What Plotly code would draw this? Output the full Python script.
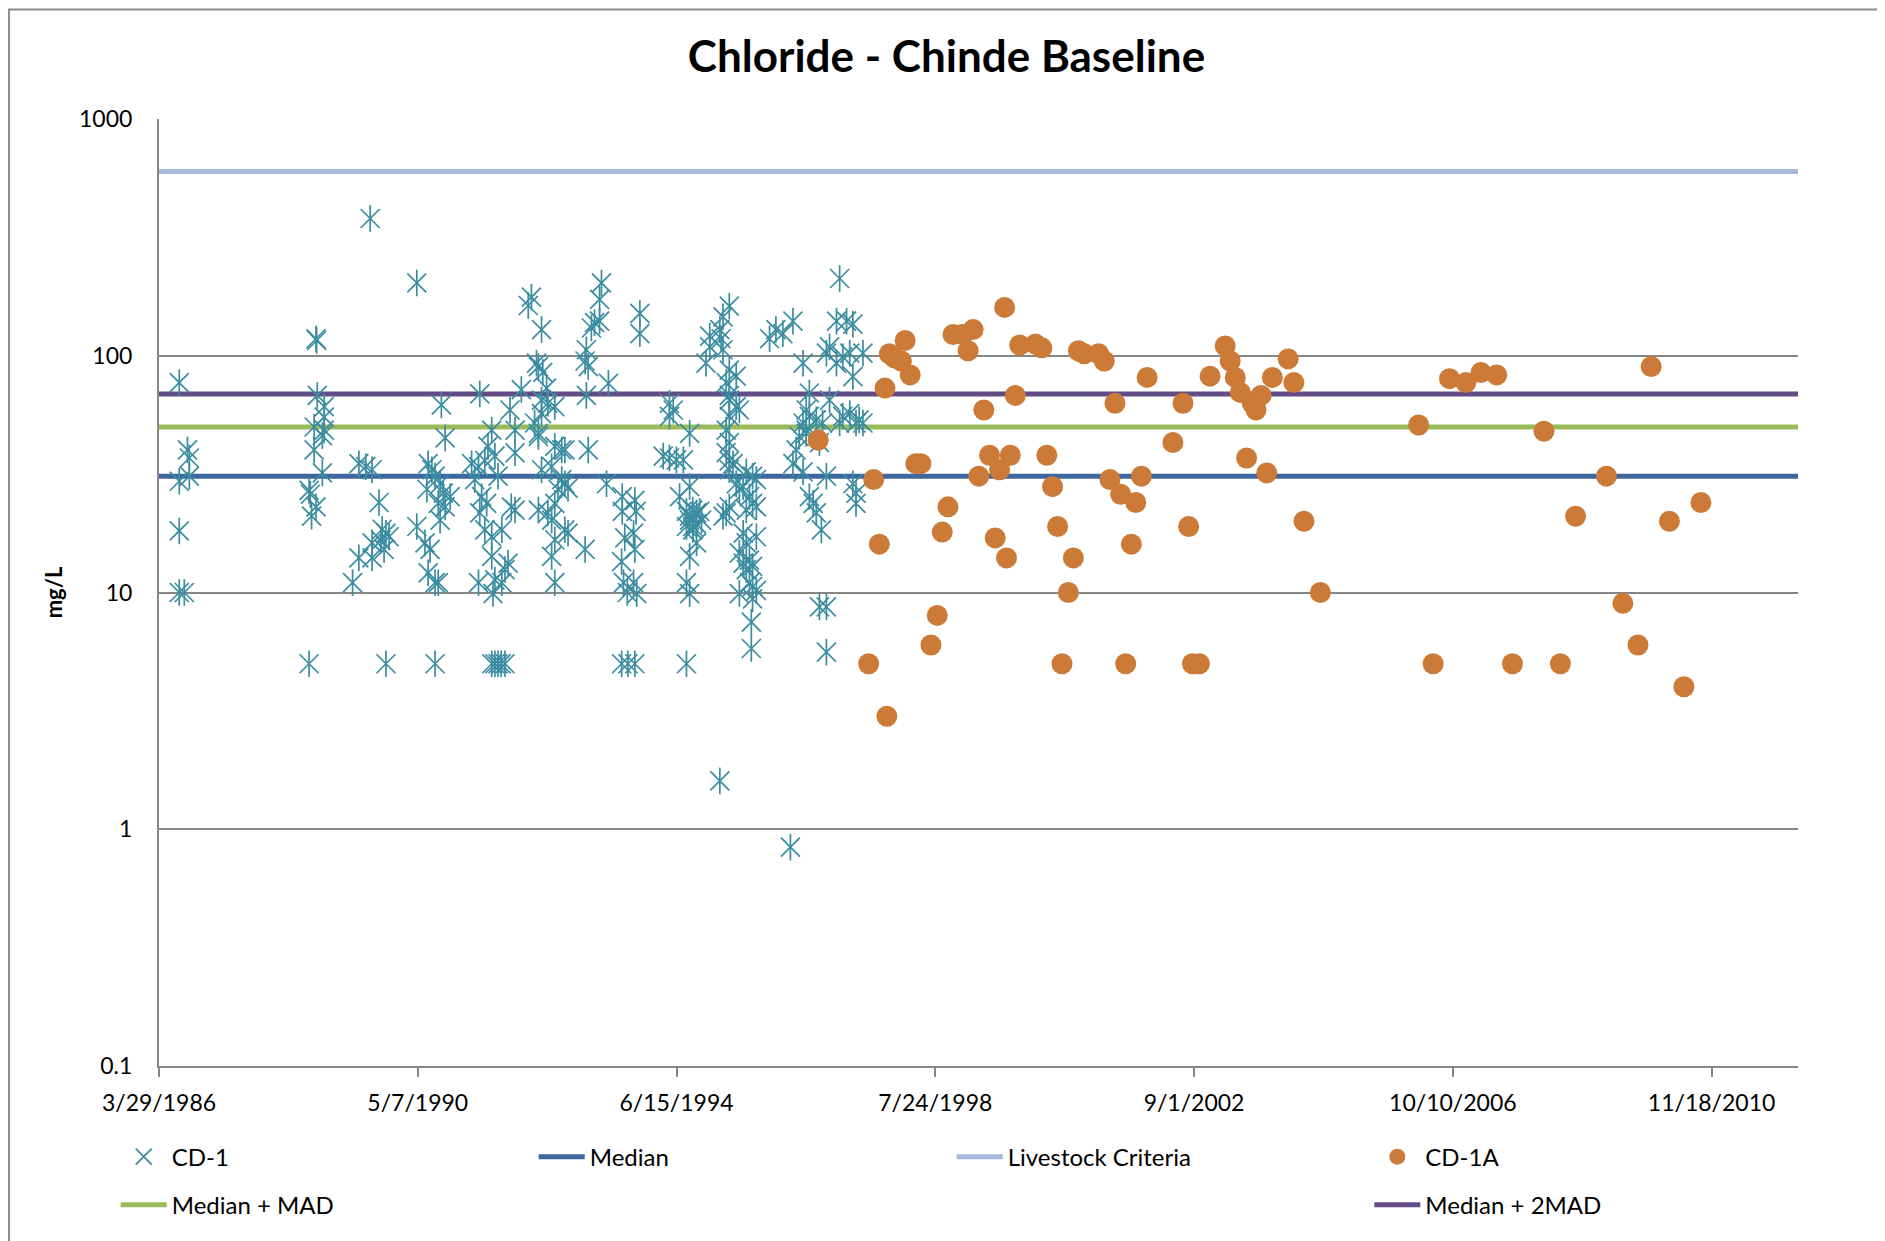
import pandas as pd
import plotly.graph_objects as go

# ---------------- data ----------------
# CD-1 sampling dates (decimal years) and chloride (mg/L)
cd1_year = [
    1986.56, 1986.69, 1986.72, 1986.56, 1986.72, 1986.56, 1986.56, 1986.64,
    1988.73, 1988.74, 1988.75, 1988.86, 1988.86, 1988.70, 1988.86, 1988.83, 1988.70, 1988.83,
    1988.62, 1988.64, 1988.73, 1988.66, 1988.62,
    1989.41, 1989.52, 1989.62, 1989.73, 1989.78, 1989.84, 1989.76, 1989.89, 1989.62, 1989.81,
    1989.41, 1989.62, 1989.31, 1989.84, 1989.59,
    1990.33, 1990.72, 1990.78, 1990.51, 1990.57, 1990.62, 1990.49, 1990.70, 1990.75, 1990.86,
    1990.67, 1990.78, 1990.70, 1990.33, 1990.46, 1990.54, 1990.51, 1990.62, 1990.67, 1990.62,
    1991.33, 1991.52, 1991.89, 1991.81, 1991.99, 1991.46, 1991.57, 1991.89, 1991.20, 1991.31,
    1991.41, 1991.62, 1991.25, 1991.36, 1991.44, 1991.33, 1991.41, 1991.52, 1991.68, 1991.83,
    1991.89, 1991.52, 1991.78, 1991.57, 1991.31, 1991.68, 1991.54, 1991.73,
    1991.52, 1991.57, 1991.62, 1991.67, 1991.73,
    1992.15, 1992.10, 1992.31, 1992.23, 1992.26, 1992.33, 1992.39, 1992.31, 1992.41, 1992.52,
    1992.31, 1992.20, 1992.26, 1992.26, 1992.52, 1992.63, 1992.68, 1992.31, 1992.47, 1992.63,
    1992.68, 1992.57, 1992.73, 1992.52, 1992.26, 1992.41, 1992.47, 1992.68, 1992.73, 1992.52,
    1992.47, 1992.52, 1993.00, 1993.05, 1993.02, 1993.02, 1993.05, 1993.00,
    1993.26, 1993.23, 1993.15, 1993.23, 1993.10, 1993.37, 1993.34, 1993.58, 1993.68, 1993.79,
    1993.59, 1993.59, 1993.63, 1993.58, 1993.61, 1993.67, 1993.79, 1993.81, 1993.77, 1993.79,
    1993.77, 1993.82, 1993.87, 1993.87,
    1994.34, 1994.40, 1994.34, 1994.66, 1994.24, 1994.34, 1994.45, 1994.56, 1994.66, 1994.50,
    1994.61, 1994.66, 1994.71, 1994.77, 1994.82, 1994.66, 1994.77, 1994.71, 1994.85, 1994.61,
    1994.71, 1994.77, 1994.66, 1994.61, 1994.66, 1994.61,
    1994.92, 1994.98, 1995.14, 1995.19, 1995.29, 1994.98, 1995.19, 1995.16, 1995.29, 1995.40,
    1995.24, 1995.29, 1995.29, 1995.40, 1995.45, 1995.29, 1995.24, 1995.29, 1995.24, 1995.29,
    1995.35, 1995.29, 1995.56, 1995.66, 1995.72, 1995.40, 1995.45, 1995.51, 1995.61, 1995.66,
    1995.72, 1995.56, 1995.24, 1995.29, 1995.19, 1995.51, 1995.72, 1995.56, 1995.45, 1995.51,
    1995.61, 1995.56, 1995.66, 1995.45, 1995.61, 1995.66, 1995.72, 1995.66, 1995.64, 1995.64,
    1995.14,
    1996.03, 1996.14, 1996.30, 1995.93, 1996.26,
    1996.30, 1996.35, 1996.40, 1996.46, 1996.51, 1996.56, 1996.51, 1996.67, 1996.77, 1996.56,
    1996.46, 1996.51, 1996.72, 1996.46, 1996.83, 1996.56, 1996.62, 1996.67, 1996.75, 1996.72,
    1996.83, 1996.83, 1997.04, 1996.99, 1997.15, 1997.25, 1996.88, 1996.83, 1996.99, 1997.09,
    1997.20, 1997.41, 1997.25, 1996.88, 1997.09, 1997.20, 1997.35, 1997.30, 1997.41, 1997.04,
    1997.25, 1997.30, 1997.30,
]
cd1_value = [
    77, 40, 37, 29.5, 31, 18.2, 10, 10,
    118, 116, 68, 61, 55, 50, 48.5, 46, 40, 32,
    27, 26, 23, 21, 5,
    35, 34, 33, 24, 18.5, 17.8, 16.6, 17.2, 16.2, 15.2,
    14, 14, 11, 5, 380,
    203, 62, 45, 35, 33, 31, 27.3, 28.8, 26.3, 25.4,
    23.8, 23, 20.2, 19, 16.2, 15.2, 12.1, 11, 11, 5,
    69, 48.5, 48.5, 59, 72, 41.4, 37.7, 38.9, 35, 34,
    36.1, 31, 30, 25.4, 23.8, 21.7, 18.4, 17.2, 18.4, 23,
    22.3, 14.2, 13.3, 11.3, 11, 11, 9.9, 12.5,
    5, 5, 5, 5, 5,
    177, 163, 129, 93, 90, 85, 73, 65, 63, 61,
    57, 52, 47, 45.6, 41.4, 40, 40, 33, 34, 30,
    28.8, 27.3, 27.6, 23.8, 22.3, 21.7, 20.2, 18.4, 17.8, 16.7,
    14.2, 11, 15.2, 40, 68, 106, 90, 95,
    203, 173, 138, 140, 131, 76.5, 28.8, 5, 5, 5,
    25.4, 22, 17, 13.5, 11, 10, 24.5, 22, 17.8, 15.2,
    11, 9.9, 151, 124,
    63, 59, 55.5, 47, 37.7, 37, 36.3, 36.3, 28, 25.4,
    22, 21, 22.3, 21.7, 22, 20.2, 19.5, 19, 20.2, 19,
    18.4, 16.2, 14.2, 11, 9.9, 5,
    93, 121, 129, 146, 162, 109, 106, 118, 87, 82,
    77, 68, 65, 61, 59, 55.5, 48.5, 43, 39, 36,
    35, 33, 32.3, 31, 30, 28.8, 27.3, 28, 25.4, 23.8,
    23, 22.3, 21.7, 23, 21, 17.8, 17.2, 16.2, 14.7, 13.3,
    13.7, 12.5, 12.9, 9.9, 11, 10.6, 10.2, 9.4, 7.5, 5.8,
    1.6,
    129, 124, 140, 118, 0.84,
    35, 40, 45.6, 52, 47, 55.5, 59, 53.6, 52, 69.6,
    93, 48.5, 43, 32.3, 31, 25.4, 23.8, 21.7, 18.4, 8.7,
    8.7, 5.6, 212, 140, 140, 136, 109, 102.5, 93, 99,
    102.5, 102.5, 81.7, 65, 55.5, 57, 53.6, 52, 52, 52,
    28.8, 26.3, 23.8,
]

# CD-1A sampling dates (decimal years) and chloride (mg/L)
cd1a_year = [
    1996.70, 1997.50, 1997.58, 1997.67, 1997.76, 1997.79, 1997.83, 1997.91, 1998.02, 1998.08,
    1998.16, 1998.25, 1998.33, 1998.49, 1998.59, 1998.67, 1998.76, 1998.84, 1998.99, 1999.16,
    1999.08, 1999.25, 1999.33, 1999.42, 1999.58, 1999.75, 1999.51, 1999.69, 1999.66, 1999.83,
    1999.90, 2000.15, 2000.25, 2000.33, 2000.42, 2000.50, 2000.57, 2000.67, 2000.75, 2000.83,
    2000.92, 2001.15, 2001.24, 2001.33, 2001.41, 2001.50, 2001.58, 2001.67, 2001.74, 2001.83,
    2001.92, 2002.33, 2002.49, 2002.58, 2002.64, 2002.75, 2002.92, 2003.16, 2003.24, 2003.32,
    2003.40, 2003.50, 2003.59, 2003.73, 2003.65, 2003.82, 2003.91, 2004.16, 2004.25, 2004.41,
    2004.67, 2006.23, 2006.46, 2006.72, 2006.98, 2007.22, 2007.47, 2007.72, 2008.22, 2008.48,
    2008.72, 2009.21, 2009.47, 2009.71, 2009.92, 2010.21, 2010.44, 2010.71,
]
cd1a_value = [
    44, 5, 30, 16, 73, 3, 102, 98, 95, 116,
    83, 35, 35, 6, 8, 18, 23, 123, 123, 129,
    105, 31, 59, 38, 33, 38, 17, 14, 160, 68,
    111, 112, 108, 38, 28, 19, 5, 10, 14, 105,
    102, 102, 95, 30, 63, 26, 5, 16, 24, 31,
    81, 43, 63, 19, 5, 5, 82, 110, 95, 81,
    70, 37, 63, 68, 59, 32, 81, 97, 77, 20,
    10, 51, 5, 80, 77, 85, 83, 5, 48, 5,
    21, 31, 9, 6, 90, 20, 4, 24,
]

# reference levels (mg/L)
level_names = ["Median", "Livestock Criteria", "Median + MAD", "Median + 2MAD"]
level_values = [31, 600, 50, 69]
period = ["1986-03-29", "2012-04-02"]  # extent of the baseline period / axis

y_tick_vals = [0.1, 1, 10, 100, 1000]
y_tick_text = ["0.1", "1", "10", "100", "1000"]

# ---------------- helpers ----------------
def to_date(y):
    yi = int(y)
    start = pd.Timestamp(yi, 1, 1)
    end = pd.Timestamp(yi + 1, 1, 1)
    return start + (end - start) * (y - yi)

cd1_dates = [to_date(y) for y in cd1_year]
cd1a_dates = [to_date(y) for y in cd1a_year]

FONT = "Lato"
level_colors = {
    "Median": "#3D679E",
    "Livestock Criteria": "#A6B9DB",
    "Median + MAD": "#9BBB59",
    "Median + 2MAD": "#634C86",
}
level_legend = {
    "Median": ("legend", 2),
    "Livestock Criteria": ("legend", 3),
    "Median + MAD": ("legend2", 1),
    "Median + 2MAD": ("legend3", 1),
}

fig = go.Figure()

for name, val in zip(level_names, level_values):
    lg, rank = level_legend[name]
    fig.add_trace(go.Scatter(
        x=period, y=[val, val], mode="lines", name=name,
        line=dict(color=level_colors[name], width=5),
        legend=lg, legendrank=rank, hoverinfo="skip",
    ))

CD1_COLOR = "#3A8CA0"
fig.add_trace(go.Scatter(
    x=cd1_dates, y=cd1_value, mode="markers", name="CD-1",
    marker=dict(symbol="x-thin-open", size=19, color=CD1_COLOR,
                line=dict(color=CD1_COLOR, width=1.7)),
    legend="legend", legendrank=1, legendgroup="cd1",
))
fig.add_trace(go.Scatter(
    x=cd1_dates, y=cd1_value, mode="markers", name="CD-1",
    marker=dict(symbol="line-ns-open", size=19, color=CD1_COLOR,
                line=dict(color=CD1_COLOR, width=1.7)),
    legend="legend", legendgroup="cd1", showlegend=False,
))
fig.add_trace(go.Scatter(
    x=cd1a_dates, y=cd1a_value, mode="markers", name="CD-1A",
    marker=dict(symbol="circle", size=21, color="#CC7A37",
                line=dict(width=0)),
    legend="legend4", legendrank=1,
))

# page is offset by the 8px body margin, so the figure is 8px smaller
OFF = 8
W, H = 1885 - OFF, 1241 - OFF
ML, MT = 151, 110.5
MR = W - (1798.5 - OFF)
MB = H - (1066.5 - OFF)
pw, ph = W - ML - MR, H - MT - MB

def px_x(p):  # p in figure pixels
    return (p - ML) / pw

def px_y(p):
    return (H - MB - p) / ph

legend_common = dict(
    orientation="h", xanchor="left", yanchor="middle",
    font=dict(family=FONT, size=24, color="black"),
    bgcolor="rgba(0,0,0,0)", entrywidth=357, entrywidthmode="pixels",
    itemwidth=46, traceorder="normal",
)
col_x = [px_x(132.7 - 25 + i * 418) for i in range(4)]
row_y = [px_y(1149.7), px_y(1197.8)]

fig.update_layout(
    width=W, height=H,
    margin=dict(l=ML, r=MR, t=MT, b=MB),
    paper_bgcolor="white", plot_bgcolor="white",
    font=dict(family=FONT, size=23, color="black"),
    title=dict(text="<b>Chloride - Chinde Baseline</b>",
               font=dict(family=FONT, size=44, color="black"),
               x=0.5, xref="container", xanchor="center",
               y=1 - 48.5 / H, yref="container", yanchor="middle"),
    xaxis=dict(
        type="date", range=period,
        tick0=period[0], dtick=1500 * 86400000, tickformat="%-m/%-d/%Y",
        showgrid=False, showline=True, linecolor="#868686", linewidth=2,
        ticks="outside", ticklen=9, tickcolor="#868686", tickwidth=1.5,
        tickfont=dict(family=FONT, size=23, color="black"),
        ticklabelstandoff=6, zeroline=False,
    ),
    yaxis=dict(
        type="log", range=[-1, 3],
        tickvals=y_tick_vals, ticktext=y_tick_text,
        showgrid=True, gridcolor="#868686", gridwidth=1.5,
        showline=True, linecolor="#868686", linewidth=2,
        ticks="", tickfont=dict(family=FONT, size=23, color="black"),
        ticklabelstandoff=20,
        title=dict(text="<b>mg/L</b>", font=dict(family=FONT, size=22, color="black"),
                   standoff=10),
    ),
    legend=dict(x=col_x[0], y=row_y[0], **legend_common),
    legend4=dict(x=col_x[3], y=row_y[0], **legend_common),
    legend2=dict(x=col_x[0], y=row_y[1], **legend_common),
    legend3=dict(x=col_x[3], y=row_y[1], **legend_common),
    shapes=[dict(type="rect", xref="paper", yref="paper",
                 x0=px_x(1), x1=px_x(1871), y0=px_y(H + 20), y1=px_y(1),
                 line=dict(color="#8C8C8C", width=2), layer="below")],
    showlegend=True,
)

fig.write_html("out.html")
